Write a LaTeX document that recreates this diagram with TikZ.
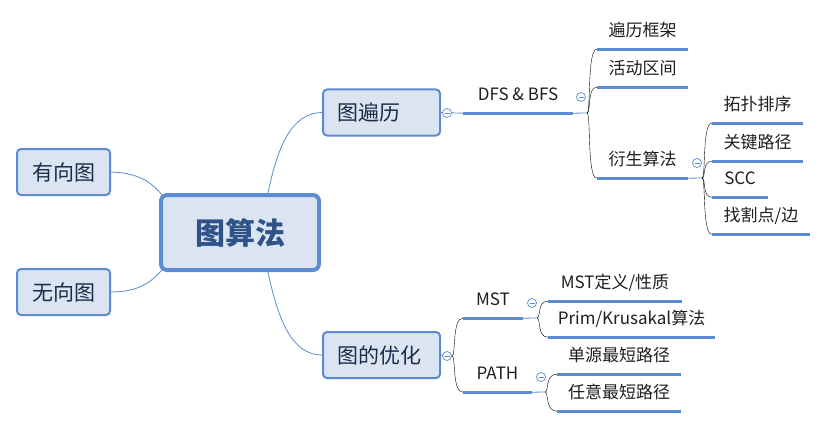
\documentclass[tikz,border=0pt]{standalone}
\usepackage{fontspec}
\setmainfont{Noto Sans CJK SC}
\usetikzlibrary{calc}
\definecolor{lb}{HTML}{5B8BD0}
\definecolor{nodefill}{HTML}{DBE5F2}
\definecolor{roottext}{HTML}{2F5289}
\definecolor{topictext}{HTML}{1C2B48}
\definecolor{leaftext}{HTML}{1E1E1E}
\begin{document}
\begin{tikzpicture}[x=1pt,y=-1pt,
  rootbox/.style={draw=lb,line width=4pt,fill=nodefill,rounded corners=6pt,
    minimum width=158,minimum height=75,inner sep=0,text=roottext,
    font=\fontsize{30}{34}\selectfont\bfseries},
  sidebox/.style={draw=lb,line width=2pt,fill=nodefill,rounded corners=4pt,
    minimum width=93,minimum height=46,inner sep=0,text=topictext,
    font=\fontsize{21}{25}\selectfont},
  topicbox/.style={draw=lb,line width=2pt,fill=nodefill,rounded corners=4pt,
    text width=89,inner xsep=14,minimum height=46,inner ysep=0,align=left,
    text=topictext,font=\fontsize{21}{25}\selectfont},
  leaf/.style={inner sep=0,minimum height=32,text height=0.72em,text depth=0pt,
    text=leaftext,font=\fontsize{17}{20}\selectfont},
  uline/.style={draw=lb,line width=3pt},
  conn/.style={draw=lb,line width=0.8pt},
  br/.style={conn,to path={.. controls ($(\tikztostart)+(4,0)$) and (\tikztostart|-\tikztotarget) .. (\tikztotarget)}},
  coll/.style={circle,draw=lb,line width=0.7pt,fill=white,minimum size=9pt,inner sep=0,
    path picture={\draw[lb,line width=0.7pt] ($(path picture bounding box.west)+(2,0)$) -- ($(path picture bounding box.east)+(-2,0)$);}}
]
\useasboundingbox (0,0) rectangle (828,428);

% connectors from root (drawn first)
\coordinate (rtop) at (268,193);
\coordinate (rbot) at (268,272);
\coordinate (rnw) at (162,195);
\coordinate (rsw) at (162,270);

% main nodes
\node[sidebox] (yx) at (63.5,172) {有向图};
\node[sidebox] (wx) at (63.5,292) {无向图};
\node[topicbox] (bl) at (381.5,112.5) {图遍历};
\node[topicbox] (yh) at (381.5,355) {图的优化};

\draw[conn] (yx.east) .. controls (140,173) and (152,183) .. (rnw);
\draw[conn] (wx.east) .. controls (140,292) and (152,281) .. (rsw);
\draw[conn] (rtop) .. controls (278,145) and (292,113) .. (bl.west);
\draw[conn] (rbot) .. controls (278,320) and (292,355) .. (yh.west);

\node[rootbox] (root) at (240,232.5) {图算法};

% leaves: first branch
\node[leaf,minimum width=110] (dfs) at (518,97) {DFS \& BFS};
\node[leaf,minimum width=91] (bk) at (642.5,33) {遍历框架};
\node[leaf,minimum width=91] (hd) at (642.5,71) {活动区间};
\node[leaf,minimum width=91] (ys) at (642.5,162) {衍生算法};
\node[leaf,minimum width=91] (tp) at (757.5,107) {拓扑排序};
\node[leaf,minimum width=91] (gj) at (757.5,145) {关键路径};
\node[leaf,minimum width=56] (scc) at (740,181) {SCC};
\node[leaf,minimum width=98] (gd) at (761,218) {找割点/边};

% leaves: second branch
\node[leaf,minimum width=60] (mst) at (493,302) {MST};
\node[leaf,minimum width=69] (path) at (497.5,376) {PATH};
\node[leaf,minimum width=134] (md) at (615,285) {MST定义/性质};
\node[leaf,minimum width=167] (pk) at (631.5,321) {Prim/Krusakal算法};
\node[leaf,minimum width=124] (dy) at (619,358) {单源最短路径};
\node[leaf,minimum width=124] (ry) at (619,395) {任意最短路径};

% underlines
\foreach \n in {dfs,bk,hd,ys,tp,gj,scc,gd,mst,path,md,pk,dy,ry}
  \draw[uline] (\n.south west) -- (\n.south east);

% branch points
\coordinate (dfsb) at (587,113);
\coordinate (ysb) at (702,178);
\coordinate (yhb) at (452,356);
\coordinate (mstb) at (537,318);
\coordinate (pathb) at (545,392);

% first branch connectors
\draw[conn] (bl.east) -- (dfs.south west);
\draw[conn] (dfs.south east) -- (dfsb);
\draw (dfsb) to[br] (bk.south west);
\draw (dfsb) to[br] (hd.south west);
\draw (dfsb) to[br] (ys.south west);
\draw[conn] (ys.south east) -- (ysb);
\draw (ysb) to[br] (tp.south west);
\draw (ysb) to[br] (gj.south west);
\draw (ysb) to[br] (scc.south west);
\draw (ysb) to[br] (gd.south west);

% second branch connectors
\draw[conn] (yh.east) -- (yhb);
\draw (yhb) to[br] (mst.south west);
\draw (yhb) to[br] (path.south west);
\draw[conn] (mst.south east) -- (mstb);
\draw (mstb) to[br] (md.south west);
\draw (mstb) to[br] (pk.south west);
\draw[conn] (path.south east) -- (pathb);
\draw (pathb) to[br] (dy.south west);
\draw (pathb) to[br] (ry.south west);

% collapse markers
\node[coll] (c1) at (447,113) {};
\node[coll] (c2) at (581,97) {};
\node[coll] (c3) at (697,163) {};
\node[coll] (c4) at (447,356) {};
\node[coll] (c5) at (532,303) {};
\node[coll] (c6) at (541,377) {};
\end{tikzpicture}
\end{document}
